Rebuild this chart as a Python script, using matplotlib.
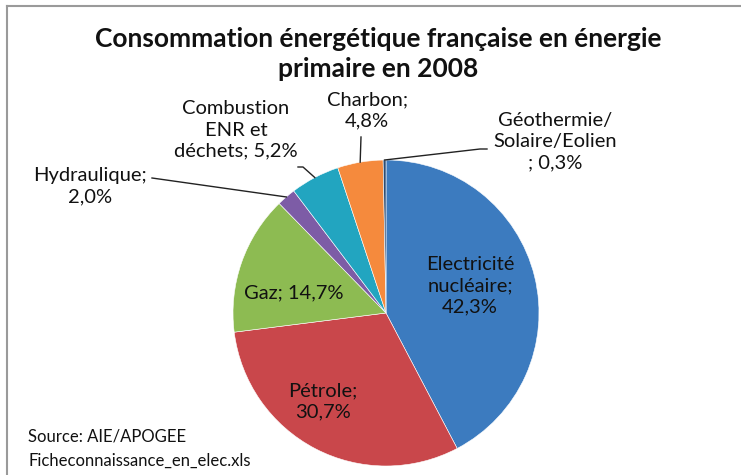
import matplotlib
matplotlib.use("Agg")
import matplotlib.pyplot as plt
import numpy as np

# data, clockwise from 12 o'clock
categories = ["Electricité nucléaire", "Pétrole", "Gaz", "Hydraulique",
              "Combustion ENR et déchets", "Charbon", "Géothermie/Solaire/Eolien"]
shares = [42.3, 30.7, 14.7, 2.0, 5.2, 4.8, 0.3]
label_texts = [
    "Electricité\nnucléaire;\n42,3%",
    "Pétrole;\n30,7%",
    "Gaz; 14,7%",
    "Hydraulique;\n2,0%",
    "Combustion\nENR et\ndéchets; 5,2%",
    "Charbon;\n4,8%",
    "Géothermie/\nSolaire/Eolien\n; 0,3%",
]
colors = ["#3C7BBF", "#C9474B", "#8DBB52", "#7D5CA6", "#22A5C0", "#F58A3D", "#2C4D75"]

W, H = 741, 475
CX, CY, R = 386, H - 313, 153

# label anchor (image pixels) and leader start for outside labels
label_pos = {
    0: (470, 286), 1: (323, 401), 2: (294, 293),
    3: (90, 186), 4: (236, 130), 5: (367, 110), 6: (555, 142),
}
leader_start = {3: [(152, 178)], 4: [(298, 167), (303, 167)],
                5: [(361, 137)], 6: [(487, 149), (480, 149)]}

plt.rcParams["font.family"] = ["Lato", "DejaVu Sans"]

fig = plt.figure(figsize=(W / 100, H / 100), dpi=100)
ax = fig.add_axes([0, 0, 1, 1])

wedges, _ = ax.pie(shares, colors=colors, startangle=90, counterclock=False,
                   center=(CX, CY), radius=R, frame=True,
                   wedgeprops=dict(edgecolor="white", linewidth=0.4))
ax.set_xlim(0, W)
ax.set_ylim(0, H)
ax.set_aspect("equal")
ax.axis("off")

# frame lines (top and left)
ax.plot([7, W], [H - 6, H - 6], color="#9a9a9a", lw=1.5)
ax.plot([7, 7], [0, H - 6], color="#9a9a9a", lw=1.5)

ax.text(378, H - 54, "Consommation énergétique française en énergie\nprimaire en 2008",
        ha="center", va="center", fontsize=19, fontweight="bold",
        linespacing=1.3, color="#111111")

for i, txt in enumerate(label_texts):
    x, y = label_pos[i]
    ax.text(x, H - y, txt, ha="center", va="center", fontsize=14.5,
            linespacing=1.3, color="#111111")
    if i in leader_start:
        w = wedges[i]
        mid = np.deg2rad((w.theta1 + w.theta2) / 2)
        ex, ey = CX + R * np.cos(mid), CY + R * np.sin(mid)
        pts = [(px, H - py) for px, py in leader_start[i]] + [(ex, ey)]
        xs, ys = zip(*pts)
        ax.plot(xs, ys, color="#222222", lw=1.0)

ax.text(28, H - 437, "Source: AIE/APOGEE", ha="left", va="center", fontsize=12, color="#111111")
ax.text(28, H - 461, "Ficheconnaissance_en_elec.xls", ha="left", va="center", fontsize=12, color="#111111")

fig.savefig("out.png", dpi=100, facecolor="white")
